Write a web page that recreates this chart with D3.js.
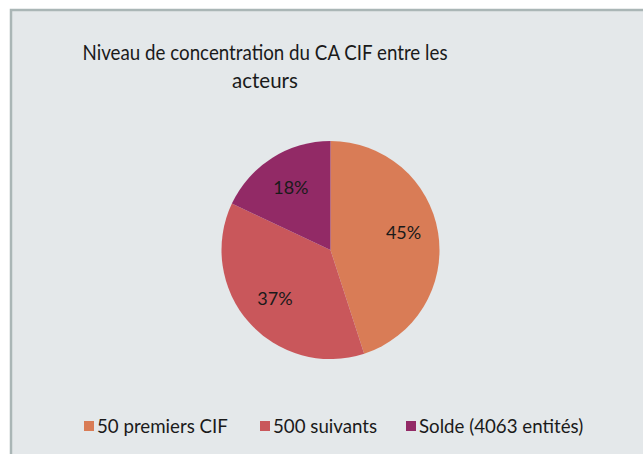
<!DOCTYPE html>
<html>
<head>
<meta charset="utf-8">
<style>
  body { margin: 0; background: #fff; }
  svg { display: block; font-family: Lato, "Open Sans", sans-serif; }
</style>
</head>
<body>
<svg width="643" height="454"></svg>
<script src="https://d3js.org/d3.v7.min.js"></script>
<script>
var categories = ["50 premiers CIF", "500 suivants", "Solde (4063 entités)"];
var shares = [45, 37, 18];
var colors = ["#d97c56", "#c9575b", "#922a66"];
var titleLines = ["Niveau de concentration du CA CIF entre les", "acteurs"];

var svg = d3.select("svg");

// chart frame
svg.append("rect")
    .attr("x", 11).attr("y", 10)
    .attr("width", 640).attr("height", 450)
    .attr("fill", "#e4e8ea")
    .attr("stroke", "#aab6b6")
    .attr("stroke-width", 2.5);

// title
svg.append("text")
    .attr("text-anchor", "middle")
    .attr("font-size", 20.5)
    .attr("fill", "#1a1a1a")
    .selectAll("tspan")
    .data(titleLines)
  .enter().append("tspan")
    .attr("x", 265)
    .attr("y", function(d, i) { return 60 + i * 28; })
    .attr("textLength", function(d, i) { return i === 0 ? 365 : null; })
    .attr("lengthAdjust", "spacingAndGlyphs")
    .text(function(d) { return d; });

var cx = 330.5, cy = 250, r = 109;
var data = categories.map(function(c, i) { return {name: c, value: shares[i]}; });

var pie = d3.pie().sort(null).value(function(d) { return d.value; });
var arc = d3.arc().innerRadius(0).outerRadius(r);
var labelArc = d3.arc().innerRadius(74).outerRadius(74);

var g = svg.append("g").attr("transform", "translate(" + cx + "," + cy + ")");

var slices = g.selectAll("g.slice")
    .data(pie(data))
  .enter().append("g").attr("class", "slice");

slices.append("path")
    .attr("d", arc)
    .attr("fill", function(d, i) { return colors[i]; })
    .attr("stroke", "none");

slices.append("text")
    .attr("transform", function(d) {
      var c = labelArc.centroid(d);
      if (d.index === 0) c[1] -= 6;
      return "translate(" + c + ")";
    })
    .attr("text-anchor", "middle")
    .attr("dy", "0.35em")
    .attr("font-size", 18)
    .attr("fill", "#1a1a1a")
    .text(function(d) { return d.data.value + "%"; });

// legend
var legendX = [84, 260, 406];
var legend = svg.append("g").selectAll("g")
    .data(categories)
  .enter().append("g")
    .attr("transform", function(d, i) { return "translate(" + legendX[i] + ",421)"; });

legend.append("rect")
    .attr("width", 10).attr("height", 10)
    .attr("fill", function(d, i) { return colors[i]; });

legend.append("text")
    .attr("x", 13)
    .attr("y", 5)
    .attr("dy", "0.35em")
    .attr("font-size", 18.7)
    .attr("fill", "#1a1a1a")
    .text(function(d) { return d; });
</script>
</body>
</html>
